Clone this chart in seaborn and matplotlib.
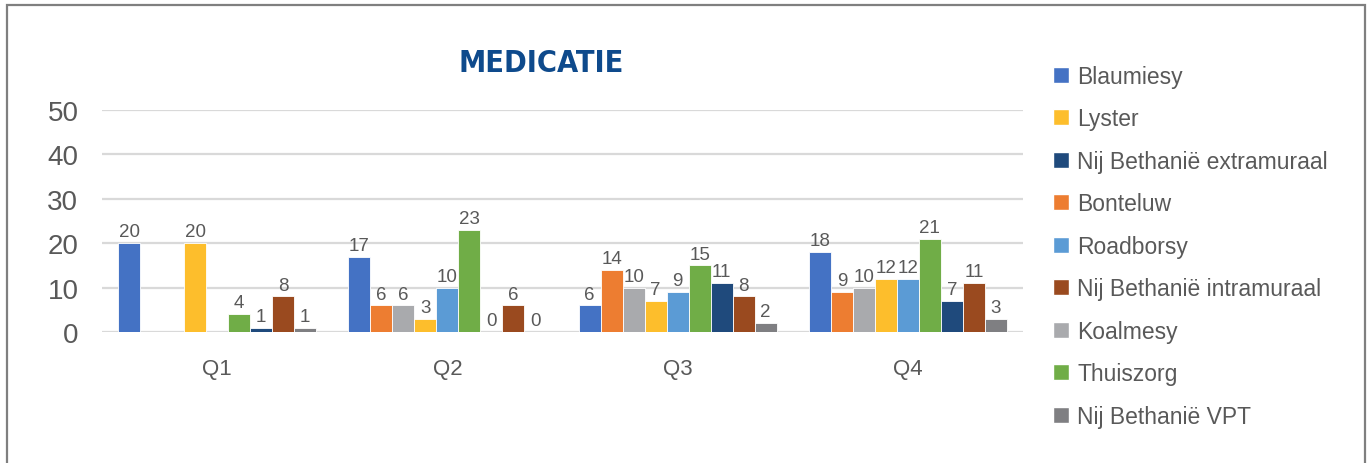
import numpy as np
import pandas as pd
import matplotlib
matplotlib.use("Agg")
import matplotlib.pyplot as plt
import seaborn as sns
from matplotlib.patches import Rectangle, Patch

quarters = ["Q1", "Q2", "Q3", "Q4"]

# bar order inside each quarter group
locations = ["Blaumiesy", "Bonteluw", "Koalmesy", "Lyster", "Roadborsy",
             "Thuiszorg", "Nij Bethanië extramuraal", "Nij Bethanië intramuraal",
             "Nij Bethanië VPT"]

blaumiesy = [20, 17, 6, 18]
bonteluw = [np.nan, 6, 14, 9]
koalmesy = [np.nan, 6, 10, 10]
lyster = [20, 3, 7, 12]
roadborsy = [np.nan, 10, 9, 12]
thuiszorg = [4, 23, 15, 21]
nb_extra = [1, 0, 11, 7]
nb_intra = [8, 6, 8, 11]
nb_vpt = [1, 0, 2, 3]

colors = ["#4472C4", "#ED7D31", "#A9AAAD", "#FDBE2C", "#5B9BD5",
          "#70AD47", "#1F4A7C", "#9A4A1F", "#7F7F82"]

legend_order = ["Blaumiesy", "Lyster", "Nij Bethanië extramuraal", "Bonteluw",
                "Roadborsy", "Nij Bethanië intramuraal", "Koalmesy",
                "Thuiszorg", "Nij Bethanië VPT"]

series = [blaumiesy, bonteluw, koalmesy, lyster, roadborsy,
          thuiszorg, nb_extra, nb_intra, nb_vpt]
rows = []
for loc, vals in zip(locations, series):
    for q, v in zip(quarters, vals):
        rows.append({"Kwartaal": q, "Locatie": loc, "Aantal": v})
df = pd.DataFrame(rows).dropna()

sns.set_style("white")
plt.rcParams["font.family"] = ["Liberation Sans", "DejaVu Sans"]
txt = "#595959"

fig = plt.figure(figsize=(13.7, 4.64), dpi=100)
ax = fig.add_axes([102 / 1370, 1 - 333 / 464, 921 / 1370, 222 / 464])

palette = dict(zip(locations, colors))
sns.barplot(data=df, x="Kwartaal", y="Aantal", hue="Locatie",
            order=quarters, hue_order=locations, palette=palette,
            saturation=1, width=0.86, gap=0, errorbar=None,
            edgecolor="white", linewidth=0.6, legend=False, ax=ax)

for cont in ax.containers:
    ax.bar_label(cont, fmt="%d", padding=2, fontsize=13.5, color=txt)

ax.set_ylim(0, 50)
ax.set_xlim(-0.5, 3.5)
ax.set_yticks([0, 10, 20, 30, 40, 50])
ax.yaxis.grid(True, color="#D9D9D9", linewidth=1.6)
ax.set_axisbelow(True)
sns.despine(ax=ax, left=True, bottom=True)
ax.tick_params(axis="y", length=0, pad=17, labelsize=20, labelcolor=txt)
ax.tick_params(axis="x", length=0, pad=19, labelsize=16, labelcolor=txt)
ax.set_xlabel("")
ax.set_ylabel("")

fig.text(541 / 1370, 1 - 64 / 464, "MEDICATIE", ha="center", va="center",
         fontsize=22, fontweight="bold", fontstretch="condensed",
         color="#0E4A8C", family=["DejaVu Sans"])

handles = [Patch(facecolor=palette[n], label=n) for n in legend_order]
fig.legend(handles=handles, loc="upper left",
           bbox_to_anchor=(1053 / 1370, 1 - 66 / 464), frameon=False,
           fontsize=16.5, labelcolor=txt, labelspacing=0.85,
           handlelength=0.7, handleheight=0.7, handletextpad=0.35,
           borderpad=0, borderaxespad=0)

fig.patches.append(Rectangle((7 / 1370, -0.1), 1358 / 1370, 1.1 - 6 / 464,
                             transform=fig.transFigure, fill=False,
                             edgecolor="#7F7F7F", linewidth=1.6))

fig.savefig("out.png", dpi=100)
